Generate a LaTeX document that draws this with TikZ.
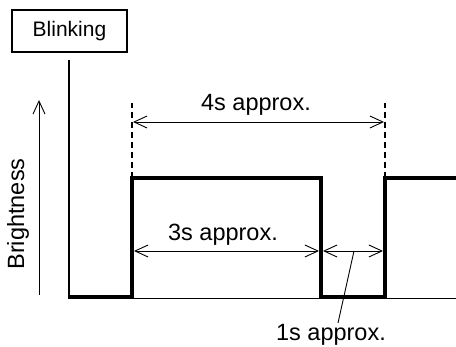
\documentclass[tikz,border=0pt]{standalone}
\usepackage{fontspec}
\setmainfont{Liberation Sans}
\usetikzlibrary{arrows.meta,positioning}
\tikzset{
  dim/.style={line width=0.9pt,{Straight Barb[length=13pt,width=12pt]}-{Straight Barb[length=13pt,width=12pt]}},
  guide/.style={line width=1.8pt,dash pattern=on 6pt off 4pt},
  lbl/.style={font=\fontsize{23.5}{25}\selectfont,inner sep=1pt}
}
\begin{document}
\begin{tikzpicture}[x=1pt,y=1pt,line cap=butt]
  \useasboundingbox (0,0) rectangle (456,347);
  % title box
  \node[draw,line width=1.8pt,minimum width=115pt,minimum height=42pt,inner sep=0pt,
        font=\fontsize{21}{23}\selectfont] (title) at (69.5,316) {Blinking};
  % axes
  \coordinate (O) at (69,48);
  \coordinate (Otop) at (69,287);
  \coordinate (Xend) at (456,48);
  \draw[line width=1.8pt] (Otop) -- (O);
  \draw[line width=1pt] (O) -- (Xend);
  % brightness
  \coordinate (B1) at (39,52);
  \coordinate (B2) at (39,247);
  \draw[line width=0.9pt,-{Straight Barb[length=13pt,width=12pt]}] (B1) -- (B2);
  \node[lbl,rotate=90] (bright) at (18,133) {Brightness};
  % signal
  \coordinate (L0) at (69,49.5);
  \coordinate (R1) at (132,49.5);
  \coordinate (H1) at (132,169);
  \coordinate (F1) at (321,169);
  \coordinate (D1) at (321,49.5);
  \coordinate (R2) at (385,49.5);
  \coordinate (H2) at (385,169);
  \coordinate (E) at (456,169);
  \draw[line width=4pt,line join=miter] (L0) -- (R1) -- (H1) -- (F1) -- (D1) -- (R2) -- (H2) -- (E);
  % guide lines
  \coordinate (T1) at (132,244);
  \coordinate (T2) at (385,244);
  \draw[guide] (H1) -- (T1);
  \draw[guide] (H2) -- (T2);
  % 4s
  \coordinate (A1) at (133,225);
  \coordinate (A2) at (384,225);
  \draw[dim] (A1) -- (A2);
  \node[lbl] (four) at (256,242) {4s approx.};
  % 3s
  \coordinate (C1) at (134,96);
  \coordinate (C2) at (319,96);
  \draw[dim] (C1) -- (C2);
  \node[lbl] (three) at (223,112) {3s approx.};
  % 1s
  \coordinate (S1) at (323,96);
  \coordinate (S2) at (383,96);
  \draw[dim] (S1) -- (S2);
  \node[lbl,anchor=north] (one) at (331,24) {1s approx.};
  \coordinate (P) at (354,96);
  \draw[line width=0.9pt] (P) -- (one.north -| 338,0);
\end{tikzpicture}
\end{document}
